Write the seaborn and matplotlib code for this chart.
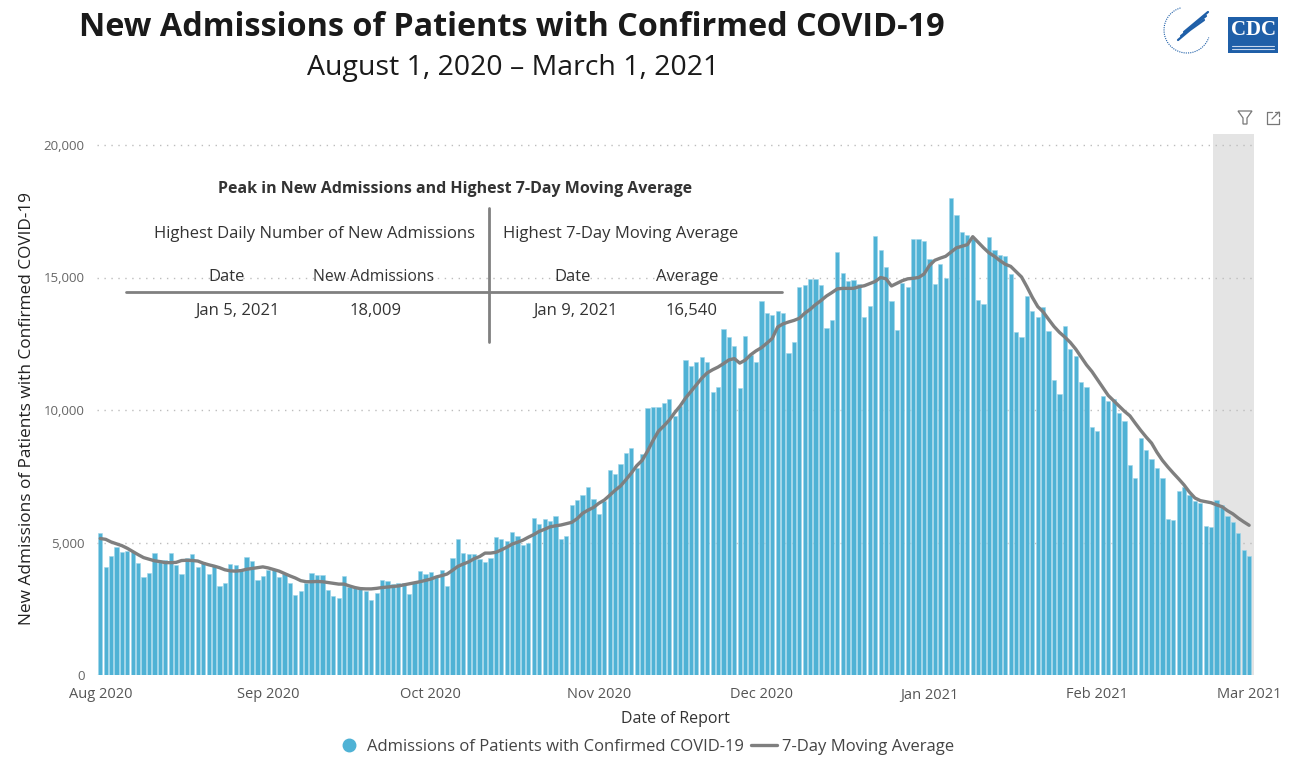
import pandas as pd
import seaborn as sns
import matplotlib.pyplot as plt
from matplotlib.lines import Line2D
from matplotlib.patches import Rectangle, Arc, Polygon

# Daily new admissions, Aug 1 2020 .. Mar 1 2021
daily_admissions = [
    5347, 4063, 4478, 4843, 4654, 4679, 4654, 4226, 3711, 3862,
    4604, 4327, 4327, 4604, 4151, 3799, 4415, 4566, 4075, 4252,
    3824, 4113, 3346, 3459, 4189, 4151, 4013, 4465, 4289, 3597,
    3749, 3950, 3950, 3686, 3799, 3472, 3019, 3170, 3484, 3836,
    3774, 3761, 3220, 2981, 2893, 3723, 3308, 3308, 3333, 3157,
    2843, 3094, 3585, 3560, 3434, 3459, 3472, 3069, 3522, 3925,
    3811, 3874, 3736, 3975, 3358, 4415, 5132, 4591, 4553, 4566,
    4390, 4277, 4428, 5195, 5119, 5044, 5384, 5258, 4906, 4994,
    5925, 5686, 5874, 5811, 6000, 5132, 5258, 6415, 6604, 6792,
    7082, 6642, 6075, 6553, 7736, 7585, 7975, 8377, 8553, 7824,
    8327, 10075, 10113, 10113, 10277, 10415, 9786, 10151, 11887, 11660,
    11811, 12000, 11800, 10679, 10868, 13057, 12755, 12415, 10818, 12780,
    12063, 11800, 14113, 13648, 13585, 13748, 13648, 12164, 12566, 14642,
    14704, 14943, 14943, 14717, 13094, 13396, 15962, 15157, 14880, 14906,
    14767, 13509, 13925, 16566, 16038, 15409, 14101, 13019, 14805, 14642,
    16440, 16440, 16365, 15686, 14755, 15522, 14969, 18009, 17358, 16704,
    16604, 16465, 14151, 13987, 16541, 16038, 15849, 15811, 15145, 12943,
    12755, 14302, 13723, 13522, 13887, 12969, 11132, 10616, 13170, 12314,
    12025, 11057, 10868, 9371, 9208, 10528, 10327, 10403, 9899, 9597,
    7912, 7447, 8943, 8491, 8164, 7799, 7421, 5899, 5836, 6943,
    7107, 6780, 6579, 6491, 5623, 5585, 6604, 6415, 6013, 5774,
    5346, 4717, 4503,
]

# 7-day moving average
moving_avg_7day = [
    5150, 5120, 5020, 4950, 4880, 4780, 4660, 4540, 4430, 4370,
    4310, 4280, 4240, 4240, 4250, 4320, 4330, 4320, 4300, 4220,
    4160, 4110, 4050, 3970, 3930, 3920, 3940, 3990, 4020, 4050,
    4080, 4040, 3980, 3920, 3830, 3740, 3660, 3560, 3520, 3520,
    3530, 3520, 3490, 3460, 3430, 3430, 3360, 3300, 3260, 3250,
    3250, 3270, 3300, 3320, 3340, 3360, 3400, 3440, 3480, 3520,
    3570, 3620, 3700, 3750, 3810, 3950, 4100, 4190, 4270, 4390,
    4470, 4600, 4600, 4630, 4720, 4820, 4940, 5010, 5090, 5200,
    5300, 5420, 5500, 5590, 5630, 5660, 5710, 5760, 5900, 6100,
    6220, 6320, 6480, 6600, 6780, 6970, 7130, 7370, 7620, 7900,
    8100, 8450, 8850, 9200, 9400, 9620, 9900, 10150, 10450, 10700,
    10950, 11200, 11400, 11520, 11620, 11750, 11890, 11940, 11770, 11880,
    12080, 12230, 12350, 12520, 12700, 13130, 13250, 13320, 13380, 13460,
    13650, 13800, 13980, 14130, 14300, 14430, 14570, 14590, 14590, 14590,
    14650, 14690, 14770, 14850, 15000, 14950, 14680, 14780, 14880, 14950,
    14970, 15000, 15130, 15450, 15650, 15730, 15800, 15960, 16120, 16180,
    16240, 16540, 16330, 16120, 15930, 15800, 15640, 15500, 15420, 15220,
    15020, 14650, 14250, 13900, 13700, 13420, 13150, 12930, 12750, 12550,
    12300, 12000, 11700, 11450, 11150, 10850, 10550, 10350, 10150, 9950,
    9780, 9500, 9230, 8980, 8750, 8400, 8100, 7850, 7620, 7400,
    7170, 6900, 6680, 6580, 6540, 6500, 6420, 6350, 6200, 6080,
    5920, 5780, 5650,
]

month_ticks = [0, 31, 61, 92, 122, 153, 184, 212]
month_labels = ['Aug 2020', 'Sep 2020', 'Oct 2020', 'Nov 2020',
                'Dec 2020', 'Jan 2021', 'Feb 2021', 'Mar 2021']
y_ticks = [0, 5000, 10000, 15000, 20000]
shade_start = 205.3   # last week still incomplete (grey band)

peak_date, peak_value = 'Jan 5, 2021', '18,009'
avg_date, avg_value = 'Jan 9, 2021', '16,540'

bar_color = '#4fb2d5'
line_color = '#7f7f7f'
text_color = '#333333'

df = pd.DataFrame({'day': range(len(daily_admissions)),
                   'admissions': daily_admissions,
                   'ma7': moving_avg_7day})

sns.set_style('white')
plt.rcParams['font.family'] = ['Open Sans', 'DejaVu Sans']

W, H = 1297, 775
fig = plt.figure(figsize=(W / 100, H / 100), dpi=100)

def fx(px):
    return px / W

def fy(py):
    return 1 - py / H

ax = fig.add_axes([fx(97), fy(675), fx(1254) - fx(97), fy(134) - fy(675)])

ax.axvspan(shade_start, 212.9, color='#e4e4e4', zorder=0, lw=0)

sns.barplot(data=df, x='day', y='admissions', native_scale=True, width=0.78,
            color=bar_color, saturation=1, edgecolor='#9fd6ea', linewidth=0.4,
            ax=ax, zorder=2)
sns.lineplot(data=df, x='day', y='ma7', color=line_color, linewidth=2.4,
             ax=ax, zorder=3)

ax.set_xlim(-0.6, 212.9)
ax.set_ylim(0, 20000 * (675 - 134) / (675 - 145))
ax.set_yticks(y_ticks)
ax.set_yticklabels([f'{v:,}' for v in y_ticks])
ax.set_xticks(month_ticks)
ax.set_xticklabels(month_labels)
ax.tick_params(axis='both', length=0, colors='#666666')
ax.tick_params(axis='y', labelsize=9.5, pad=9)
ax.tick_params(axis='x', labelsize=10.5, pad=9, colors='#555555')
ax.yaxis.grid(True, linestyle=(0, (1, 4)), color='#bdbdbd', linewidth=1)
ax.set_axisbelow(True)
for s in ax.spines.values():
    s.set_visible(False)
ax.set_xlabel('Date of Report', fontsize=11.5, color=text_color, labelpad=6)
ax.set_ylabel('New Admissions of Patients with Confirmed COVID-19',
              fontsize=12.4, color='#222222')
ax.yaxis.set_label_coords(-(97 - 35) / (1254 - 97), 0.5 - (408.5 - 404.5) / (675 - 134))

# titles
fig.text(fx(512), fy(28), 'New Admissions of Patients with Confirmed COVID-19',
         ha='center', va='center', fontsize=23.3, fontweight='bold', color='#1a1a1a')
fig.text(fx(513), fy(68), 'August 1, 2020 \u2013 March 1, 2021',
         ha='center', va='center', fontsize=20.5, color='#1a1a1a')

# peak summary table
def ftext(x, y, s, **kw):
    fig.text(fx(x), fy(y), s, ha='center', va='center', color=text_color, **kw)

ftext(455, 189, 'Peak in New Admissions and Highest 7-Day Moving Average',
      fontsize=11.5, fontweight='bold')
ftext(315, 234, 'Highest Daily Number of New Admissions', fontsize=12)
ftext(621, 234, 'Highest 7-Day Moving Average', fontsize=12)
ftext(227, 277, 'Date', fontsize=12)
ftext(374, 277, 'New Admissions', fontsize=11.3)
ftext(573, 277, 'Date', fontsize=12)
ftext(687, 277, 'Average', fontsize=12)
ftext(238, 311, peak_date, fontsize=12)
ftext(376, 311, peak_value, fontsize=12)
ftext(576, 311, avg_date, fontsize=12)
ftext(692, 311, avg_value, fontsize=12)
fig.add_artist(Line2D([fx(126), fx(782)], [fy(292), fy(292)], color='#808080', lw=2))
fig.add_artist(Line2D([fx(489), fx(489)], [fy(208), fy(342)], color='#808080', lw=2))

# legend
handles = [Line2D([], [], marker='o', linestyle='none', markersize=9,
                  markerfacecolor=bar_color, markeredgecolor=bar_color),
           Line2D([], [], color=line_color, lw=2.4)]
fig.legend(handles, ['Admissions of Patients with Confirmed COVID-19', '7-Day Moving Average'],
           loc='center', bbox_to_anchor=(fx(645), fy(747)), ncol=2, frameon=False,
           fontsize=12, handlelength=1.6, handletextpad=0.3, columnspacing=0.4,
           labelcolor='#444444')

# filter / expand icons
icon_grey = '#777777'
fig.add_artist(Polygon([[fx(1238), fy(111)], [fx(1252), fy(111)], [fx(1247), fy(118)],
                        [fx(1247), fy(124)], [fx(1243), fy(124)], [fx(1243), fy(118)]],
                       closed=True, fill=False, edgecolor=icon_grey, lw=0.9))
fig.add_artist(Line2D([fx(1272), fx(1267), fx(1267), fx(1279), fx(1279)],
                      [fy(112), fy(112), fy(124), fy(124), fy(119)], color=icon_grey, lw=0.9))
fig.add_artist(Line2D([fx(1272), fx(1279)], [fy(119), fy(112)], color=icon_grey, lw=0.9))
fig.add_artist(Line2D([fx(1275), fx(1279), fx(1279)], [fy(112), fy(112), fy(116)],
                      color=icon_grey, lw=0.9))

# logos (simplified)
logo_blue = '#1f5fa8'
fig.add_artist(Rectangle((fx(1228), fy(53)), fx(50), fy(17) - fy(53),
                         facecolor=logo_blue, edgecolor='none'))
fig.text(fx(1253), fy(30), 'CDC', ha='center', va='center', fontsize=15,
         fontweight='bold', color='white', family=['Liberation Serif', 'DejaVu Serif'])
fig.add_artist(Line2D([fx(1232), fx(1274)], [fy(46), fy(46)], color='#c8d8ee', lw=0.8))
fig.add_artist(Line2D([fx(1232), fx(1274)], [fy(49), fy(49)], color='#c8d8ee', lw=0.8))
fig.add_artist(Arc((fx(1187), fy(30)), fx(46), fy(0) - fy(46), theta1=100, theta2=330,
                   color=logo_blue, lw=0.8, linestyle=(0, (1, 1))))
for k in range(3):
    fig.add_artist(Line2D([fx(1178 + 3 * k), fx(1190 + 3 * k), fx(1204 + 2 * k)],
                          [fy(40 - 4 * k), fy(30 - 4 * k), fy(20 - 4 * k)],
                          color=logo_blue, lw=1.6))

fig.savefig('out.png', dpi=100)
